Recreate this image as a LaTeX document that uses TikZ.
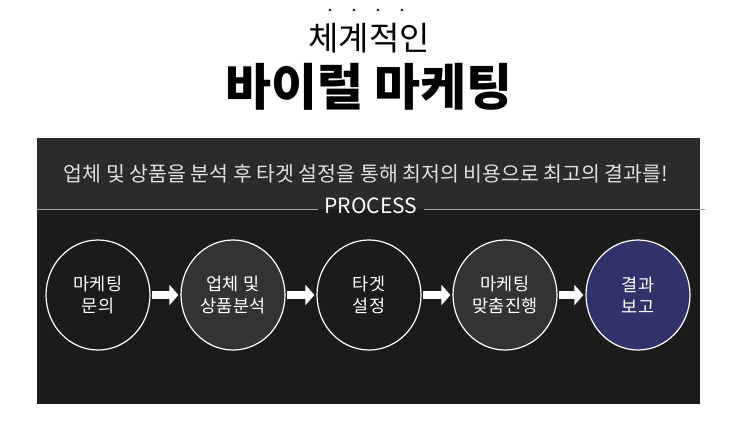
\documentclass[tikz,border=0pt]{standalone}
\usepackage{fontspec}
\newfontfamily\kr{Noto Sans CJK KR}
\usetikzlibrary{arrows.meta,shapes.geometric}
\definecolor{bandtop}{HTML}{2B2B2B}
\definecolor{bandlow}{HTML}{1B1B1B}
\definecolor{circgray}{HTML}{333333}
\definecolor{navy}{HTML}{32326A}
\tikzset{
  stepc/.style={ellipse,draw=white,line width=1.2pt,minimum width=104pt,minimum height=110pt,text=white,font=\kr\fontsize{17.5}{22}\selectfont,align=center,inner sep=0pt},
  flow/.style={white,line width=8pt,-{Triangle[length=9pt,width=20pt]},shorten <=1pt,shorten >=2pt},
}
\begin{document}
\begin{tikzpicture}[x=1pt,y=-1pt]
\useasboundingbox[fill=white] (0,0) rectangle (734,437);
\fill[bandtop] (37,138) rectangle (700,209);
\fill[bandlow] (37,209) rectangle (700,404);
\foreach \x in {330,354,378,402} \fill[black] (\x,10) circle (1.3pt);
\node[font=\kr\fontsize{33}{36}\selectfont] (t1) at (369,38) {체계적인};
\node[font=\kr\bfseries\fontsize{50}{54}\selectfont] (t2) at (369,87) {바이럴 마케팅};
\node[font=\kr\fontsize{20.5}{24}\selectfont,text=white!88!black] (sub) at (366,174) {업체 및 상품을 분석 후 타겟 설정을 통해 최저의 비용으로 최고의 결과를!};
\node[font=\kr\fontsize{21}{24}\selectfont,text=white,inner xsep=6pt,inner ysep=0pt] (proc) at (371,206) {PROCESS};
\draw[gray!70,line width=0.8pt] (37,209) -- (proc.west |- 0,209);
\draw[gray!70,line width=0.8pt] (proc.east |- 0,209) -- (705,209);
\node[stepc,fill=bandlow] (c1) at (98,295) {마케팅\\문의};
\node[stepc,fill=circgray] (c2) at (233,295) {업체 및\\상품분석};
\node[stepc,fill=bandlow] (c3) at (369,295) {타겟\\설정};
\node[stepc,fill=circgray] (c4) at (505,295) {마케팅\\맞춤진행};
\node[stepc,fill=navy] (c5) at (638,295) {결과\\보고};
\draw[flow] (c1) -- (c2);
\draw[flow] (c2) -- (c3);
\draw[flow] (c3) -- (c4);
\draw[flow] (c4) -- (c5);
\end{tikzpicture}
\end{document}
